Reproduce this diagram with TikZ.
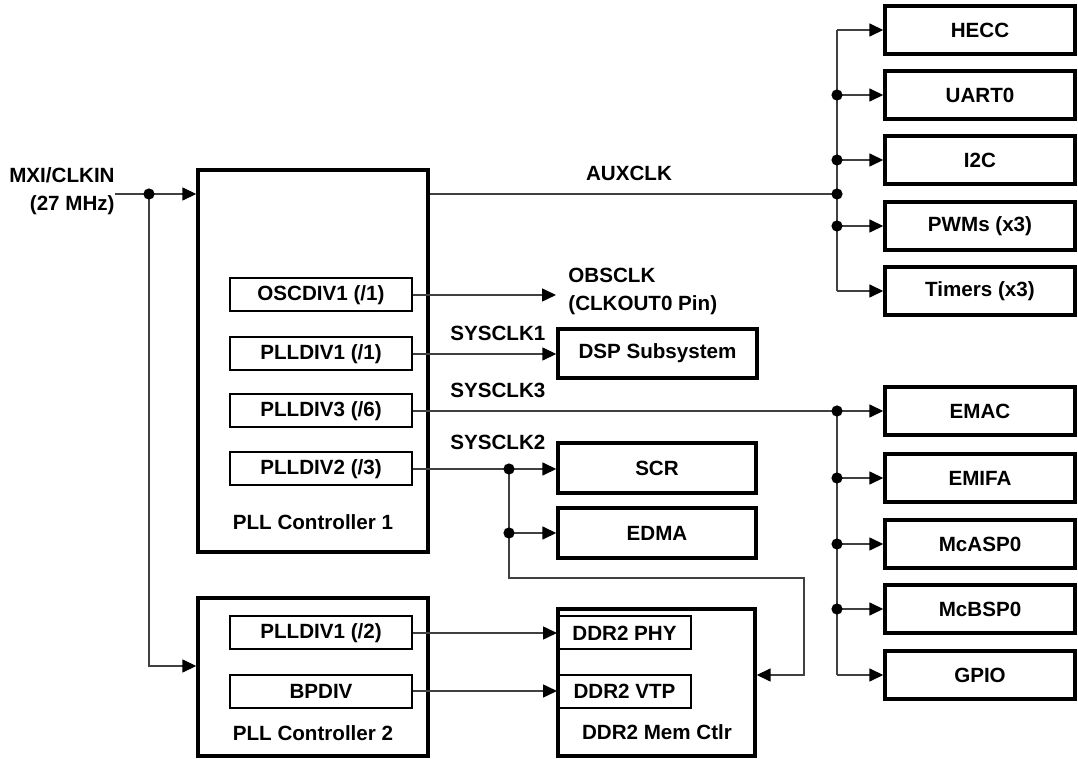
\documentclass[tikz,border=0pt]{standalone}
\usepackage{fontspec}
\setmainfont{Liberation Sans}
\usetikzlibrary{arrows.meta}

\tikzset{
  txt/.style={font=\bfseries\fontsize{10.3}{14}\selectfont},
  blk/.style={txt, draw, line width=1.7pt, minimum width=95pt, minimum height=24pt, inner sep=0pt},
  sub/.style={txt, draw, line width=1pt, minimum width=91pt, minimum height=16.5pt, inner sep=0pt},
  lbl/.style={txt, inner sep=0pt},
  wire/.style={draw=black!75, line width=0.75pt},
  tip/.style={-{Triangle[length=7pt,width=6.5pt,color=black]}},
}

\begin{document}
\begin{tikzpicture}[x=0.5pt,y=-0.5pt]
  \useasboundingbox (0,0) rectangle (1078,759);

  % PLL controllers and DDR2
  \node[blk, minimum width=115pt, minimum height=191pt] (pll1) at (313,361) {};
  \node[blk, minimum width=115pt, minimum height=79pt] (pll2) at (313,677) {};
  \node[blk, minimum width=98.5pt, minimum height=73.5pt] (ddr) at (656.5,682.5) {};
  \node[lbl] (pll1lbl) at (313,522) {PLL Controller 1};
  \node[lbl] (pll2lbl) at (313,733) {PLL Controller 2};
  \node[lbl] (ddrlbl) at (657,732) {DDR2 Mem Ctlr};

  \node[sub] (osc) at (321,295) {OSCDIV1 (/1)};
  \node[sub] (div1) at (321,354) {PLLDIV1 (/1)};
  \node[sub] (div3) at (321,411) {PLLDIV3 (/6)};
  \node[sub] (div2) at (321,469) {PLLDIV2 (/3)};
  \node[sub] (pdiv) at (321,633) {PLLDIV1 (/2)};
  \node[sub] (bpdiv) at (321,691) {BPDIV};
  \node[sub, minimum width=66.5pt] (phy) at (624.5,633) {DDR2 PHY};
  \node[sub, minimum width=66.5pt] (vtp) at (624.5,691) {DDR2 VTP};

  % middle blocks
  \node[blk, minimum width=99.5pt, minimum height=24.5pt] (dsp) at (657.5,353.5) {DSP Subsystem};
  \node[blk, minimum width=99pt, minimum height=25pt] (scr) at (657,468) {SCR};
  \node[blk, minimum width=99pt, minimum height=25pt] (edma) at (657,533) {EDMA};

  % peripherals
  \node[blk] (hecc) at (980,30) {HECC};
  \node[blk] (uart) at (980,95) {UART0};
  \node[blk] (iic) at (980,160) {I2C};
  \node[blk] (pwm) at (980,226) {PWMs (x3)};
  \node[blk] (tmr) at (980,291) {Timers (x3)};
  \node[blk] (emac) at (980,411) {EMAC};
  \node[blk] (emifa) at (980,478) {EMIFA};
  \node[blk] (mcasp) at (980,544) {McASP0};
  \node[blk] (mcbsp) at (980,609) {McBSP0};
  \node[blk] (gpio) at (980,675) {GPIO};

  % labels
  \node[lbl, align=right, anchor=east] (clkin) at (115,191) {MXI/CLKIN\\(27 MHz)};
  \node[lbl] (aux) at (629,173) {AUXCLK};
  \node[lbl, align=left, anchor=west] (obslbl) at (568,291) {OBSCLK\\(CLKOUT0 Pin)};
  \node[lbl, anchor=west] (s1) at (450,333) {SYSCLK1};
  \node[lbl, anchor=west] (s3) at (450,390) {SYSCLK3};
  \node[lbl, anchor=west] (s2) at (450,442) {SYSCLK2};

  % input clock
  \coordinate (in0) at (115,194);
  \coordinate (jin) at (149,194);
  \draw[wire, tip] (in0) -- (jin -| pll1.west);
  \draw[wire, tip] (jin) |- ([yshift=5.5pt]pll2.west);
  \fill (jin) circle (2.8pt);

  % AUXCLK bus
  \coordinate (b1) at (837,194);
  \draw[wire] (pll1.east |- b1) -- (b1);
  \draw[wire] (b1 |- hecc) -- (b1 |- tmr);
  \foreach \n in {hecc,uart,iic,pwm,tmr}
    \draw[wire, tip] (b1 |- \n) -- (\n.west);
  \foreach \n in {uart,iic,pwm}
    \fill (b1 |- \n) circle (2.8pt);
  \fill (b1) circle (2.8pt);

  % OBSCLK and SYSCLK1
  \coordinate (obs) at (556,295);
  \draw[wire, tip] (osc.east) -- (obs);
  \draw[wire, tip] (div1.east) -- (div1.east -| dsp.west);

  % SYSCLK3 bus
  \coordinate (b2) at (837,411);
  \draw[wire] (div3.east) -- (b2) -- (b2 |- gpio);
  \foreach \n in {emac,emifa,mcasp,mcbsp,gpio}
    \draw[wire, tip] (b2 |- \n) -- (\n.west);
  \foreach \n in {emac,emifa,mcasp,mcbsp}
    \fill (b2 |- \n) circle (2.8pt);

  % SYSCLK2
  \coordinate (j2) at (509,469);
  \coordinate (lp1) at (804,578);
  \coordinate (lp) at (804,675);
  \draw[wire, tip] (div2.east) -- (div2.east -| scr.west);
  \draw[wire, tip] (j2 |- edma) -- (edma.west);
  \draw[wire, tip] (j2) |- (lp1) -- (lp) -- (lp -| ddr.east);
  \fill (j2) circle (2.8pt);
  \fill (j2 |- edma) circle (2.8pt);

  % PLL controller 2 outputs
  \draw[wire, tip] (pdiv.east) -- (phy.west);
  \draw[wire, tip] (bpdiv.east) -- (vtp.west);
\end{tikzpicture}
\end{document}
